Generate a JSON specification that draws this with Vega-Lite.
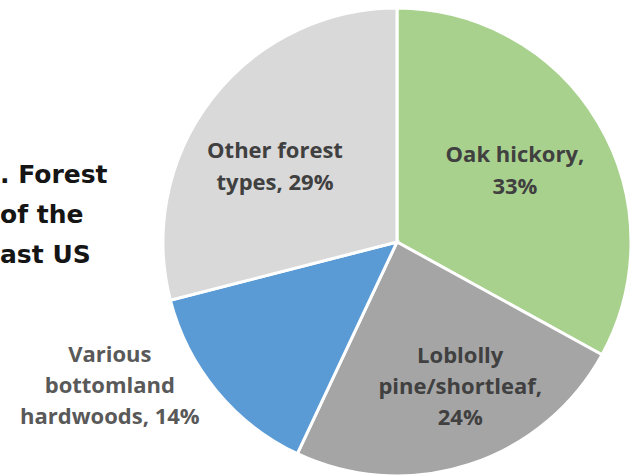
{
  "$schema": "https://vega.github.io/schema/vega-lite/v6.json",
  "width": 476,
  "height": 468,
  "autosize": "none",
  "padding": {"left": 159, "top": 8, "right": 0, "bottom": 0},
  "background": "white",
  "view": {"stroke": null},
  "title": {
    "text": [". Forest", "of the", "ast US"],
    "orient": "top",
    "anchor": "start",
    "frame": "group",
    "offset": 0,
    "baseline": "top",
    "dx": -159,
    "dy": 299,
    "font": "DejaVu Sans",
    "fontSize": 25,
    "fontWeight": "bold",
    "color": "#151515",
    "lineHeight": 40
  },
  "data": {
    "values": [
      {"name": "Oak hickory", "k": 1, "value": 33, "label": "Oak hickory,\n33%"},
      {"name": "Loblolly pine/shortleaf", "k": 2, "value": 24, "label": "Loblolly\npine/shortleaf,\n24%"},
      {"name": "Various bottomland hardwoods", "k": 3, "value": 14, "label": "Various\nbottomland\nhardwoods, 14%"},
      {"name": "Other forest types", "k": 4, "value": 29, "label": "Other forest\ntypes, 29%"}
    ]
  },
  "encoding": {
    "theta": {"field": "value", "type": "quantitative", "stack": true},
    "order": {"field": "k", "type": "quantitative"}
  },
  "layer": [
    {
      "mark": {"type": "arc", "stroke": "white", "strokeWidth": 3},
      "encoding": {
        "color": {
          "field": "name",
          "type": "nominal",
          "legend": null,
          "scale": {
            "domain": ["Oak hickory", "Loblolly pine/shortleaf", "Various bottomland hardwoods", "Other forest types"],
            "range": ["#A9D18E", "#A5A5A5", "#5B9BD5", "#D9D9D9"]
          }
        }
      }
    },
    {
      "mark": {"type": "text", "radius": 137, "dy": -17, "font": "Open Sans", "fontSize": 22, "fontWeight": "bold", "fill": "#404040", "lineBreak": "\n", "lineHeight": 32, "align": "center", "baseline": "middle"},
      "encoding": {"text": {"condition": {"test": "datum.k === 1", "field": "label"}, "value": ""}}
    },
    {
      "mark": {"type": "text", "radius": 156, "dx": 15, "dy": -34, "font": "Open Sans", "fontSize": 22, "fontWeight": "bold", "fill": "#404040", "lineBreak": "\n", "lineHeight": 31, "align": "center", "baseline": "middle"},
      "encoding": {"text": {"condition": {"test": "datum.k === 2", "field": "label"}, "value": ""}}
    },
    {
      "mark": {"type": "text", "radius": 300, "dx": -56, "dy": -78, "font": "Open Sans", "fontSize": 22, "fontWeight": "bold", "fill": "#595959", "lineBreak": "\n", "lineHeight": 31, "align": "center", "baseline": "middle"},
      "encoding": {"text": {"condition": {"test": "datum.k === 3", "field": "label"}, "value": ""}}
    },
    {
      "mark": {"type": "text", "radius": 143, "dx": -9, "dy": -3, "font": "Open Sans", "fontSize": 22, "fontWeight": "bold", "fill": "#404040", "lineBreak": "\n", "lineHeight": 32, "align": "center", "baseline": "middle"},
      "encoding": {"text": {"condition": {"test": "datum.k === 4", "field": "label"}, "value": ""}}
    }
  ]
}
